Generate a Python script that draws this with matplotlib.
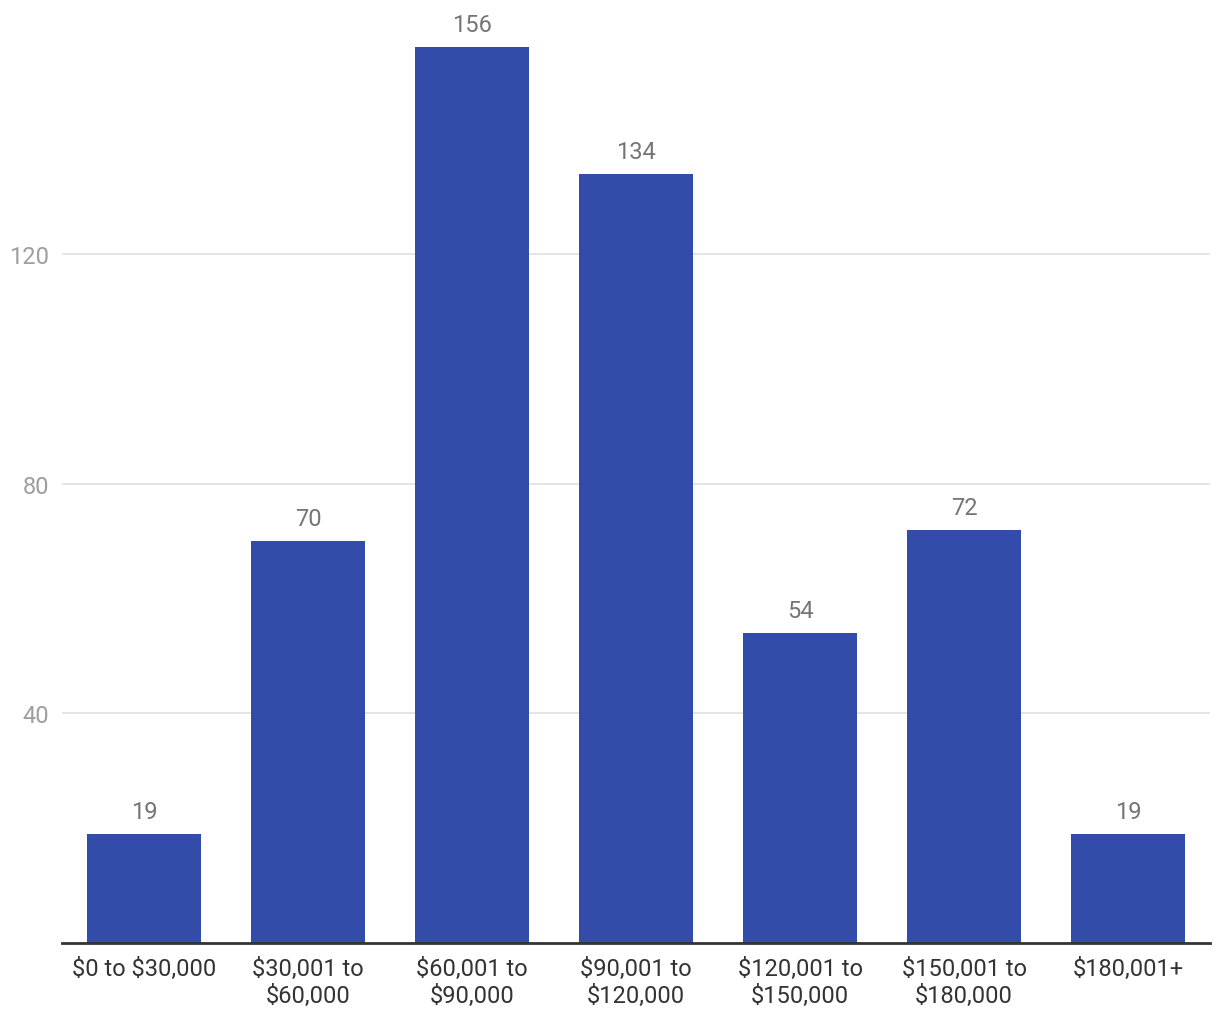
import matplotlib
matplotlib.use("Agg")
import matplotlib.pyplot as plt
import numpy as np

categories = ["$0 to $30,000", "$30,001 to\n$60,000", "$60,001 to\n$90,000",
              "$90,001 to\n$120,000", "$120,001 to\n$150,000",
              "$150,001 to\n$180,000", "$180,001+"]
counts = [19, 70, 156, 134, 54, 72, 19]
yticks = [40, 80, 120]

plt.rcParams["font.family"] = ["Roboto", "DejaVu Sans"]
plt.rcParams["text.parse_math"] = False

fig = plt.figure(figsize=(12.2, 10.2), dpi=100)
ax = fig.add_axes([62 / 1220, 76 / 1020, 1148 / 1220, 930 / 1020])

x = np.arange(len(categories))
ax.bar(x, counts, width=0.695, color="#334CAA", zorder=3)
for xi, v in zip(x, counts):
    ax.annotate(str(v), (xi, v), xytext=(0, 8), textcoords="offset points",
                ha="center", va="bottom", fontsize=17, color="#757575")

ax.set_xlim(-0.5, len(categories) - 0.5)
ax.set_ylim(0, 162)
ax.set_yticks(yticks)
ax.yaxis.grid(True, color="#e0e0e0", lw=1.2, zorder=0)
ax.tick_params(axis="y", length=0, labelsize=17, labelcolor="#9e9e9e", pad=9)
ax.set_xticks(x)
ax.set_xticklabels(categories, fontsize=17, color="#333333", linespacing=1.2)
ax.tick_params(axis="x", length=0, pad=10)
for s in ["top", "right", "left"]:
    ax.spines[s].set_visible(False)
ax.spines["bottom"].set_color("#333333")
ax.spines["bottom"].set_linewidth(2)
ax.spines["bottom"].set_zorder(4)

fig.savefig("out.png", dpi=100)
